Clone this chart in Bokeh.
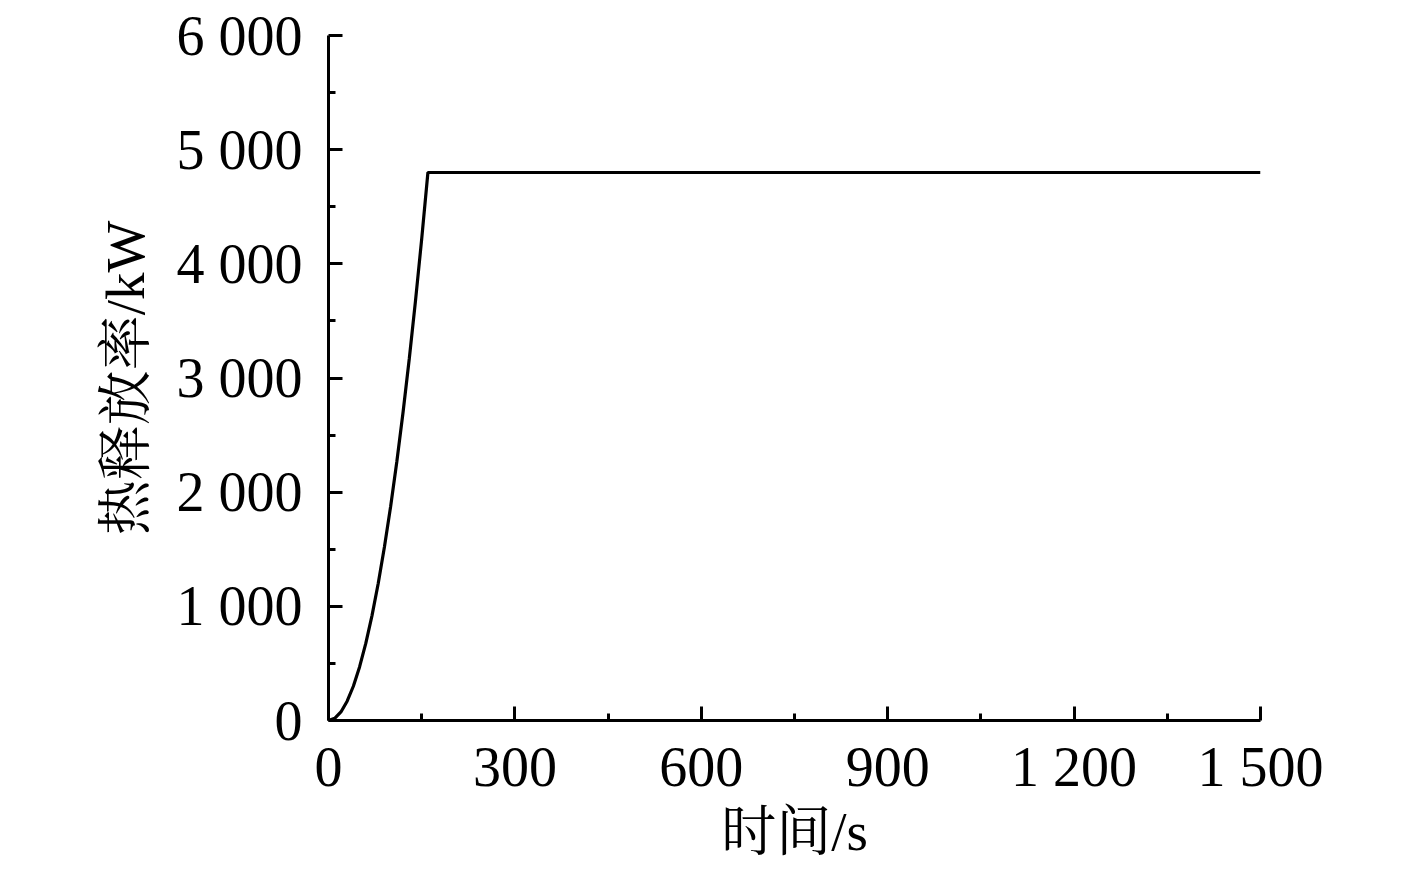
from bokeh.plotting import figure
from bokeh.embed import file_html
from bokeh.resources import INLINE
from bokeh.models import FixedTicker, Range1d

time_s = [0, 10, 20, 30, 40, 50, 60, 70, 80, 90, 100, 110, 120, 130, 140, 150, 160, 1500]
hrr_kw = [0, 19, 75, 169, 300, 469, 675, 919, 1200, 1519, 1875, 2269, 2700, 3169, 3675, 4219, 4800, 4800]

x_ticks = [0, 300, 600, 900, 1200, 1500]
x_labels = ["0", "300", "600", "900", "1 200", "1 500"]
y_ticks = [0, 1000, 2000, 3000, 4000, 5000, 6000]
y_labels = ["0", "1 000", "2 000", "3 000", "4 000", "5 000", "6 000"]

FONT = "Liberation Serif, Noto Serif CJK SC, Noto Sans CJK SC"

p = figure(width=1400, height=866, output_backend="svg", toolbar_location=None,
           x_range=Range1d(0, 1500), y_range=Range1d(0, 6000),
           min_border_left=328, min_border_right=140, min_border_top=35, min_border_bottom=146)
p.outline_line_color = None
p.xgrid.grid_line_color = None
p.ygrid.grid_line_color = None

p.line(time_s, hrr_kw, line_color="black", line_width=3.2)

for ax, ticks, labels in ((p.xaxis[0], x_ticks, x_labels), (p.yaxis[0], y_ticks, y_labels)):
    minor = []
    for a, b in zip(ticks[:-1], ticks[1:]):
        minor.append((a + b) / 2)
    ax.ticker = FixedTicker(ticks=ticks, minor_ticks=minor)
    ax.major_label_overrides = {t: l for t, l in zip(ticks, labels)}
    ax.axis_line_width = 3
    ax.axis_line_color = "black"
    ax.major_tick_line_width = 3
    ax.minor_tick_line_width = 3
    ax.major_tick_in = 14
    ax.major_tick_out = 0
    ax.minor_tick_in = 7
    ax.minor_tick_out = 0
    ax.major_label_text_font = FONT
    ax.major_label_text_font_size = "56px"
    ax.major_label_text_color = "black"
    ax.axis_label_text_font = FONT
    ax.axis_label_text_font_size = "55px"
    ax.axis_label_text_font_style = "normal"
    ax.axis_label_text_color = "black"

p.xaxis.axis_label = "时间/s"
p.yaxis.axis_label = "热释放率/kW"
p.xaxis.major_label_standoff = 15
p.yaxis.major_label_standoff = 26
p.xaxis.axis_label_standoff = 0
p.yaxis.axis_label_standoff = 18

open("out.html", "w").write(file_html(p, INLINE))
